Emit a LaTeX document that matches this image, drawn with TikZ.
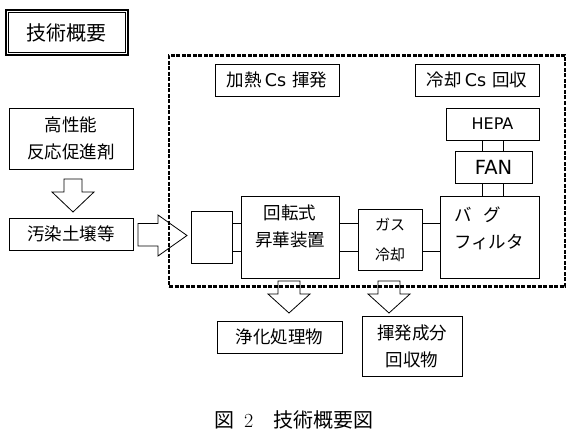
\documentclass[tikz,border=0pt]{standalone}
\usepackage{fontspec}
\newfontfamily\jp{Noto Sans CJK JP}
\newfontfamily\lat{DejaVu Sans}
\usetikzlibrary{calc}
\begin{document}
\begin{tikzpicture}[x=1pt,y=-1pt,
  box/.style={draw, line width=0.8pt, inner sep=0pt, align=center, font=\jp\fontsize{17.5}{27}\selectfont},
  txt/.style={inner sep=0pt, align=center, font=\jp\fontsize{17.5}{27}\selectfont},
  conn/.style={line width=0.8pt},
  blockarrow/.style={draw, line width=0.8pt, line join=miter}]
\useasboundingbox (0,0) rectangle (571,436);

% title
\node[box, line width=2pt, minimum width=122pt, minimum height=45pt, font=\jp\fontsize{20}{20}\selectfont] (title) at (67,32.5) {技術概要};
\draw[line width=0.8pt] ($(title.south west)+(3.5,-3.5)$) rectangle ($(title.north east)+(-3.5,3.5)$);

% left side
\node[box, minimum width=124pt, minimum height=61pt] (agent) at (71,138.5) {高性能\\反応促進剤};
\node[box, minimum width=124pt, minimum height=32pt] (soil) at (71,234) {汚染土壌等};

% labels in frame
\node[box, minimum width=124pt, minimum height=32pt] (heat) at (277,80) {加熱\,{\lat Cs}\hspace{6pt}揮発};
\node[box, minimum width=124pt, minimum height=32pt] (cool) at (477,80) {冷却\,{\lat Cs}\hspace{6pt}回収};
\node[box, minimum width=93pt, minimum height=32pt, font=\lat\fontsize{16}{16}\selectfont] (hepa) at (492.5,124) {HEPA};
\node[box, minimum width=77pt, minimum height=32pt, font=\lat\fontsize{19.5}{19.5}\selectfont] (fan) at (493.5,167) {FAN};

% process chain
\node[box, minimum width=41pt, minimum height=52pt] (small) at (211.5,237) {};
\node[box, minimum width=98pt, minimum height=82pt] (rot) at (290,237) {};
\node[txt] (rott) at (290,226) {回転式\\昇華装置};
\node[box, minimum width=64pt, minimum height=61pt] (gas) at (390,239.5) {};
\node[txt, font=\jp\fontsize{15}{30}\selectfont] (gast) at (390,240) {ガス\\冷却};
\node[box, minimum width=99pt, minimum height=82pt] (bag) at (489.5,237) {};
\node[txt, align=left] (bagt) at (489,228) {バ\hspace{12pt}グ\\フィルタ};

% connectors
\foreach \yy in {223,251} {
  \draw[conn] (small.east |- 0,\yy) -- (rot.west |- 0,\yy);
  \draw[conn] (rot.east |- 0,\yy) -- (gas.west |- 0,\yy);
  \draw[conn] (gas.east |- 0,\yy) -- (bag.west |- 0,\yy);
}
\foreach \xx in {482,503} {
  \draw[conn] (hepa.south -| \xx,0) -- (fan.north -| \xx,0);
  \draw[conn] (fan.south -| \xx,0) -- (bag.north -| \xx,0);
}

% outputs
\node[box, minimum width=125pt, minimum height=32pt] (clean) at (279.5,337) {浄化処理物};
\node[box, minimum width=100pt, minimum height=60pt] (recov) at (412,346) {揮発成分\\回収物};

% block arrows
\draw[blockarrow] (64,179) -- (82,179) -- (82,192) -- (94,192) -- (73,212) -- (52,192) -- (64,192) -- cycle;
\draw[blockarrow] (138,223.5) -- (158,223.5) -- (158,215) -- (187,235.5) -- (158,256) -- (158,246) -- (138,246) -- cycle;
\draw[blockarrow] (278,281) -- (300,281) -- (300,294) -- (310,294) -- (289,313) -- (268,294) -- (278,294) -- cycle;
\draw[blockarrow] (378,281) -- (400,281) -- (400,294) -- (410,294) -- (389,313) -- (368,294) -- (378,294) -- cycle;

% dotted frame
\node[draw, line width=2.8pt, dash pattern=on 4pt off 1.5pt, minimum width=396pt, minimum height=231pt, inner sep=0pt] (frame) at (367,171) {};

% caption
\node[inner sep=0pt, anchor=west, font=\jp\fontsize{20}{20}\selectfont] (cap) at (214,420) {図\hspace{10pt}{\rmfamily\fontsize{20}{20}\selectfont 2}\hspace{20pt}技術概要図};
\end{tikzpicture}
\end{document}
